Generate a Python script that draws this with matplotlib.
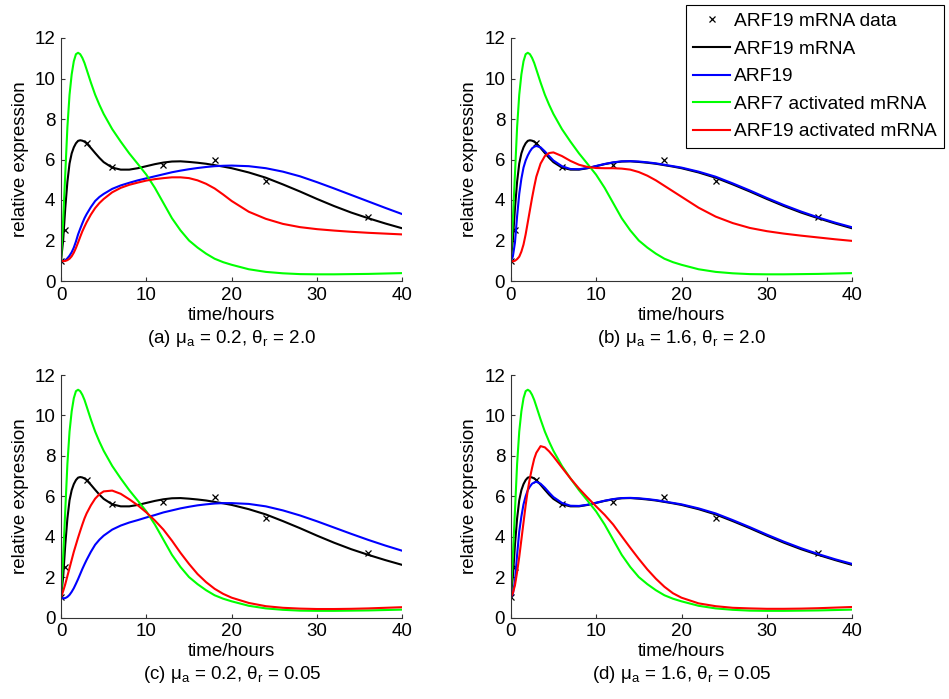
import matplotlib
matplotlib.use('Agg')
import matplotlib.pyplot as plt

plt.rcParams['font.family'] = ['Liberation Sans', 'DejaVu Sans']
plt.rcParams['mathtext.fontset'] = 'custom'
plt.rcParams['mathtext.rm'] = 'Liberation Sans'
plt.rcParams['mathtext.it'] = 'Liberation Sans'

# sample times (hours) for the model curves
t = [0, 0.25, 0.5, 0.75, 1, 1.25, 1.5, 1.75, 2, 2.25, 2.5, 2.75, 3, 3.5, 4, 4.5, 5, 6, 7, 8,
     9, 10, 11, 12, 13, 14, 15, 16, 17, 18, 19, 20, 22, 24, 26, 28, 30, 32, 34, 36, 38, 40]

# measured ARF19 mRNA
data_t = [0, 0.5, 3, 6, 12, 18, 24, 36]
data_y = [1.0, 2.5, 6.8, 5.63, 5.72, 5.98, 4.93, 3.17]

# curves common to all panels
arf19_mrna = [1.0, 2.0, 3.6, 4.9, 5.8, 6.3, 6.6, 6.8, 6.92, 6.95, 6.93, 6.88, 6.8, 6.57, 6.32,
              6.08, 5.87, 5.6, 5.5, 5.5, 5.57, 5.67, 5.77, 5.85, 5.9, 5.91, 5.88, 5.84, 5.79, 5.72,
              5.65, 5.57, 5.36, 5.1, 4.77, 4.42, 4.05, 3.7, 3.38, 3.1, 2.84, 2.6]
arf7_act = [1.0, 3.0, 5.3, 7.6, 9.2, 10.2, 10.85, 11.2, 11.27, 11.2, 11.02, 10.77, 10.45, 9.8, 9.2,
            8.7, 8.25, 7.5, 6.88, 6.3, 5.78, 5.25, 4.6, 3.85, 3.1, 2.5, 2.0, 1.65, 1.35, 1.1,
            0.93, 0.8, 0.58, 0.45, 0.38, 0.34, 0.33, 0.33, 0.34, 0.35, 0.37, 0.39]

# ARF19 protein per panel
arf19_a = [1.0, 0.98, 1.02, 1.12, 1.25, 1.42, 1.65, 1.95, 2.3, 2.58, 2.85, 3.1, 3.3, 3.65, 3.95,
           4.15, 4.3, 4.55, 4.72, 4.85, 4.97, 5.07, 5.17, 5.27, 5.37, 5.45, 5.52, 5.58, 5.63, 5.67,
           5.69, 5.7, 5.67, 5.57, 5.4, 5.17, 4.88, 4.57, 4.25, 3.93, 3.61, 3.3]
arf19_b = [1.0, 1.2, 1.9, 3.2, 4.3, 5.05, 5.6, 5.95, 6.2, 6.4, 6.55, 6.63, 6.67, 6.6, 6.4,
           6.17, 5.95, 5.67, 5.53, 5.52, 5.58, 5.68, 5.78, 5.86, 5.91, 5.92, 5.9, 5.86, 5.81, 5.74,
           5.67, 5.6, 5.4, 5.15, 4.82, 4.47, 4.1, 3.75, 3.43, 3.14, 2.88, 2.65]
arf19_c = [1.0, 0.95, 0.96, 1.02, 1.12, 1.27, 1.45, 1.67, 1.9, 2.15, 2.4, 2.63, 2.85, 3.25, 3.6,
           3.85, 4.05, 4.35, 4.55, 4.7, 4.82, 4.95, 5.07, 5.2, 5.3, 5.4, 5.48, 5.55, 5.6, 5.64,
           5.66, 5.66, 5.62, 5.5, 5.3, 5.05, 4.76, 4.45, 4.14, 3.84, 3.56, 3.3]
arf19_d = [1.0, 1.15, 1.8, 3.1, 4.25, 5.0, 5.6, 6.0, 6.3, 6.48, 6.62, 6.68, 6.72, 6.62, 6.42,
           6.18, 5.96, 5.67, 5.53, 5.52, 5.58, 5.68, 5.78, 5.86, 5.91, 5.92, 5.9, 5.86, 5.81, 5.74,
           5.67, 5.6, 5.4, 5.15, 4.82, 4.47, 4.1, 3.75, 3.43, 3.14, 2.88, 2.65]

# ARF19 activated mRNA per panel
arf19_act_a = [1.0, 0.98, 0.99, 1.03, 1.1, 1.22, 1.4, 1.63, 1.9, 2.18, 2.45, 2.68, 2.9, 3.28, 3.6,
               3.85, 4.05, 4.38, 4.6, 4.75, 4.86, 4.96, 5.03, 5.08, 5.12, 5.12, 5.08, 4.97, 4.8, 4.57,
               4.27, 3.95, 3.42, 3.07, 2.82, 2.66, 2.56, 2.49, 2.43, 2.38, 2.34, 2.3]
arf19_act_b = [1.0, 0.97, 1.0, 1.08, 1.2, 1.45, 1.8, 2.3, 2.9, 3.5, 4.1, 4.65, 5.15, 5.8, 6.17,
               6.32, 6.35, 6.17, 5.93, 5.74, 5.63, 5.58, 5.57, 5.57, 5.55, 5.5, 5.38, 5.2, 4.97, 4.7,
               4.43, 4.16, 3.62, 3.18, 2.86, 2.62, 2.46, 2.34, 2.24, 2.15, 2.06, 1.98]
arf19_act_c = [1.0, 1.3, 1.65, 2.05, 2.45, 2.85, 3.25, 3.6, 3.95, 4.28, 4.6, 4.9, 5.15, 5.55, 5.88,
               6.1, 6.24, 6.28, 6.12, 5.85, 5.55, 5.2, 4.8, 4.35, 3.8, 3.2, 2.65, 2.15, 1.75, 1.42,
               1.17, 0.98, 0.72, 0.56, 0.48, 0.44, 0.42, 0.42, 0.43, 0.45, 0.48, 0.51]
arf19_act_d = [1.0, 1.2, 1.6, 2.25, 3.0, 3.85, 4.7, 5.55, 6.3, 6.9, 7.4, 7.85, 8.15, 8.48, 8.42,
               8.22, 7.97, 7.42, 6.88, 6.38, 5.93, 5.5, 5.08, 4.6, 4.02, 3.45, 2.9, 2.38, 1.92, 1.52,
               1.2, 0.98, 0.7, 0.56, 0.48, 0.45, 0.43, 0.43, 0.44, 0.46, 0.49, 0.52]

captions = [r'(a) μ$_\mathrm{a}$ = 0.2, θ$_\mathrm{r}$ = 2.0',
            r'(b) μ$_\mathrm{a}$ = 1.6, θ$_\mathrm{r}$ = 2.0',
            r'(c) μ$_\mathrm{a}$ = 0.2, θ$_\mathrm{r}$ = 0.05',
            r'(d) μ$_\mathrm{a}$ = 1.6, θ$_\mathrm{r}$ = 0.05']
blues = [arf19_a, arf19_b, arf19_c, arf19_d]
reds = [arf19_act_a, arf19_act_b, arf19_act_c, arf19_act_d]

W, H = 949, 699
fig = plt.figure(figsize=(W / 100, H / 100), dpi=100)
# axes boxes in pixels: left, top(y=12), right(x=40), bottom(y=0)
boxes = [(61, 38, 402.4, 281), (510.7, 38, 852.3, 281),
         (61, 375, 402.4, 617.5), (510.7, 375, 852.3, 617.5)]
fs = 13.5
axc = '#333333'
lw = 1.5

axes = []
for i, (l, tp, r, b) in enumerate(boxes):
    ax = fig.add_axes([l / W, 1 - b / H, (r - l) / W, (b - tp) / H])
    ax.plot(data_t, data_y, 'kx', ms=5, mew=0.9, label='ARF19 mRNA data')
    ax.plot(t, arf19_mrna, color='k', lw=lw, label='ARF19 mRNA')
    ax.plot(t, blues[i], color='#0000ff', lw=lw, label='ARF19')
    ax.plot(t, arf7_act, color='#00ff00', lw=lw, label='ARF7 activated mRNA')
    ax.plot(t, reds[i], color='#ff0000', lw=lw, label='ARF19 activated mRNA')
    ax.set_xlim(0, 40)
    ax.set_ylim(0, 12)
    ax.set_xticks([0, 10, 20, 30, 40])
    ax.set_yticks([0, 2, 4, 6, 8, 10, 12])
    for s in ['top', 'right']:
        ax.spines[s].set_visible(False)
    for s in ['left', 'bottom']:
        ax.spines[s].set_color(axc)
        ax.spines[s].set_linewidth(0.8)
    ax.tick_params(direction='in', length=3, width=0.8, color=axc,
                   labelsize=fs, pad=4)
    ax.set_xlabel('time/hours', fontsize=fs)
    ax.set_ylabel('relative expression', fontsize=fs)
    ax.xaxis.set_label_coords(0.5, -0.105)
    ax.yaxis.set_label_coords(-0.095, 0.5)
    ax.text(0.5, -0.235, captions[i], transform=ax.transAxes,
            ha='center', va='center', fontsize=fs)
    axes.append(ax)

handles, labels = axes[1].get_legend_handles_labels()
leg = fig.legend(handles, labels, loc='upper right',
                 bbox_to_anchor=(944 / W, 1 - 5 / H), bbox_transform=fig.transFigure,
                 fontsize=13.8, frameon=True, fancybox=False, framealpha=1,
                 edgecolor='k', borderaxespad=0, handlelength=1.9,
                 handletextpad=0.2, labelspacing=0.53, borderpad=0.4)
leg.get_frame().set_linewidth(0.8)

fig.savefig('out.png', dpi=100)
